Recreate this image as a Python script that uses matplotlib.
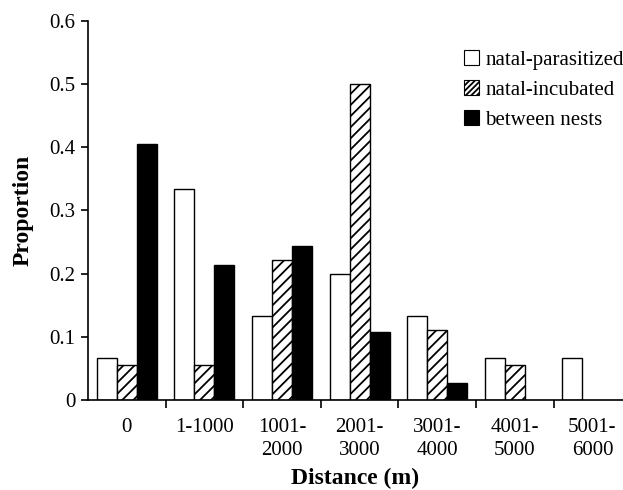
import matplotlib
matplotlib.use("Agg")
import matplotlib.pyplot as plt
import numpy as np
from matplotlib.patches import Patch

categories = ["0", "1-1000", "1001-\n2000", "2001-\n3000", "3001-\n4000", "4001-\n5000", "5001-\n6000"]
natal_parasitized = [0.067, 0.333, 0.133, 0.200, 0.133, 0.067, 0.067]
natal_incubated = [0.056, 0.056, 0.222, 0.500, 0.111, 0.056, 0.0]
between_nests = [0.405, 0.214, 0.243, 0.108, 0.027, 0.0, 0.0]
yticks = [0, 0.1, 0.2, 0.3, 0.4, 0.5, 0.6]
ytick_labels = ["0", "0.1", "0.2", "0.3", "0.4", "0.5", "0.6"]

plt.rcParams['font.family'] = ['Liberation Serif', 'DejaVu Serif']
plt.rcParams['hatch.linewidth'] = 1.3

fig = plt.figure(figsize=(6.23, 4.9), dpi=100)
ax = fig.add_axes([88/623, 1 - 400/490, 1 - 88/623, (400 - 20.7)/490])

x = np.arange(len(categories))
w = 0.257
ax.bar(x - w, natal_parasitized, w, color='white', edgecolor='black', linewidth=1.0)
ax.bar(x, [v if v > 0 else np.nan for v in natal_incubated], w, color='white', edgecolor='black', hatch='///', linewidth=1.0)
ax.bar(x + w, [v if v > 0 else np.nan for v in between_nests], w, color='black', edgecolor='black', linewidth=1.0)

ax.set_xlim(-0.5, -0.5 + 535/77.6)
ax.set_ylim(0, 0.6)
ax.set_yticks(yticks)
ax.set_yticklabels(ytick_labels, fontsize=15)
ax.set_xticks(np.arange(0.5, len(categories) - 1, 1.0))
ax.set_xticklabels([])
ax.set_xticks(x, minor=True)
ax.set_xticklabels(categories, minor=True, fontsize=15, linespacing=1.25)
ax.tick_params(axis='x', which='minor', length=0, pad=13)
ax.tick_params(axis='x', which='major', length=6, width=1.2, direction='out')
ax.tick_params(axis='y', length=5, width=1.2, direction='out', pad=4)
for s in ['top', 'right']:
    ax.spines[s].set_visible(False)
for s in ['left', 'bottom']:
    ax.spines[s].set_linewidth(1.2)

ax.set_ylabel("Proportion", fontsize=17, fontweight='bold', labelpad=11)
ax.set_xlabel("Distance (m)", fontsize=17, fontweight='bold', labelpad=6)

handles = [Patch(facecolor='white', edgecolor='black', linewidth=0.8, label='natal-parasitized'),
           Patch(facecolor='white', edgecolor='black', hatch='//////', linewidth=0.8, label='natal-incubated'),
           Patch(facecolor='black', edgecolor='black', linewidth=0.8, label='between nests')]
leg = ax.legend(handles=handles, loc='upper left', bbox_to_anchor=((456 - 88)/535, 1 - (42 - 20.7)/379.3),
                frameon=False, fontsize=15, handlelength=0.7, handleheight=0.7, handletextpad=0.3,
                labelspacing=0.5, borderaxespad=0)

fig.savefig("out.png", dpi=100)
